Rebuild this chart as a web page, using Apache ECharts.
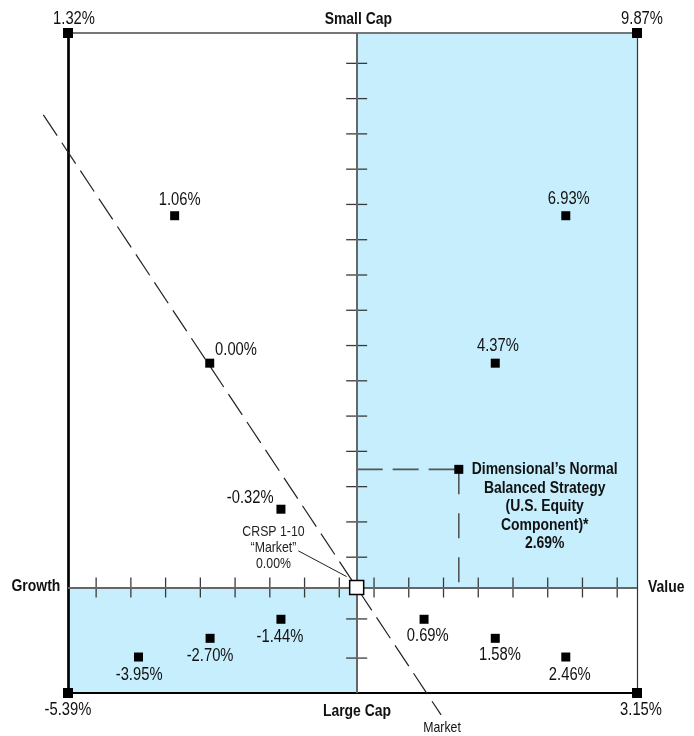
<!DOCTYPE html>
<html><head><meta charset="utf-8">
<script src="https://cdn.jsdelivr.net/npm/echarts@6/dist/echarts.min.js"></script>
<style>html,body{margin:0;padding:0;background:#fff}#c{width:694px;height:736px}</style>
</head><body><div id="c"></div>
<script>
// ---- data (style-map coordinates: value/growth across, size up/down) ----
const pointLabels = ['1.06%', '6.93%', '0.00%', '4.37%', '-0.32%', '-1.44%', '0.69%', '-2.70%', '1.58%', '-3.95%', '2.46%'];
const pointX = [-5.24, 6.02, -4.23, 3.99, -2.18, -2.18, 1.94, -4.22, 3.99, -6.28, 6.02];
const pointY = [10.54, 10.54, 6.36, 6.36, 2.22, -0.90, -0.90, -1.44, -1.44, -1.97, -1.97];
const dimLabel = 'Dimensional’s Normal\nBalanced Strategy\n(U.S. Equity\nComponent)*\n2.69%';
const dimX = 2.94, dimY = 3.35;
const marketLabel = 'CRSP 1-10\n“Market”\n0.00%';
const marketX = 0, marketY = 0;
const marketLineX = [-9.02, 2.43];
const marketLineY = [13.40, -3.61];
const cornerLabels = ['1.32%', '9.87%', '-5.39%', '3.15%'];
const axisTitles = ['Small Cap', 'Large Cap', 'Growth', 'Value'];
const xTicks = [-7.5, -6.5, -5.5, -4.5, -3.5, -2.5, -1.5, -0.5, 0.5, 1.5, 2.5, 3.5, 4.5, 5.5, 6.5, 7.5];
const yTicks = [-2.0, -0.89, 0.86, 1.86, 2.86, 3.86, 4.86, 5.86, 6.86, 7.86, 8.86, 9.86, 10.86, 11.86, 12.86, 13.86, 14.86];
const xMin = -8.31, xMax = 8.07, yMin = -2.99, yMax = 15.72;

// ---- styles ----
const FONT = "'Liberation Sans Narrow','Liberation Sans',Arial,sans-serif";
const SX = 0.82; // horizontal condensing of the text
const TXT = '#111';
const BLUE = '#c6eefc';
// label centre offsets (px) from the anchoring mark
const pointLabelOff = [[5, -15.7], [3, -17], [26.3, -13.3], [2.7, -17.3], [-30.7, -11.6],
  [-1, 17.4], [3.7, 16.7], [0, 17.7], [4.7, 17], [0.6, 18], [4, 18]];
const cornerAnchor = [[xMin, yMax], [xMax, yMax], [xMin, yMin], [xMax, yMin]];
const cornerOff = [[6, -13.7], [5, -13.7], [0, 17.4], [4, 17.4]];
const titleAnchor = [[0, yMax], [0, yMin], [xMin, 0], [xMax, 0]];
const titleOff = [[1.7, -13.7], [0.3, 18.7], [-7.7, -1], [11, -0.5]];
const titleAlign = ['center', 'center', 'right', 'left'];

function axisX(pos, color, width) {
  return {type: 'value', min: xMin, max: xMax, position: pos, z: 3,
    axisLine: {show: true, onZero: false, lineStyle: {color: color, width: width}},
    axisTick: {show: false}, axisLabel: {show: false}, splitLine: {show: false}};
}
function axisY(pos, color, width) {
  return {type: 'value', min: yMin, max: yMax, position: pos, z: 3,
    axisLine: {show: true, onZero: false, lineStyle: {color: color, width: width}},
    axisTick: {show: false}, axisLabel: {show: false}, splitLine: {show: false}};
}

const option = {
  animation: false,
  backgroundColor: '#fff',
  grid: {left: 68, right: 57, top: 33, bottom: 43, containLabel: false},
  xAxis: [axisX('bottom', '#000', 2), axisX('top', '#777', 2)],
  yAxis: [axisY('left', '#000', 2.7), axisY('right', '#333', 1.2)],
  series: [
    {
      type: 'line', data: [[0, 0]], showSymbol: false, symbol: 'none', lineStyle: {opacity: 0}, z: 1, silent: true,
      markArea: {silent: true, itemStyle: {color: BLUE, opacity: 1},
        data: [[{coord: [0, 0]}, {coord: [xMax, yMax]}], [{coord: [xMin, yMin]}, {coord: [0, 0]}]]}
    },
    {
      type: 'line', data: [[0, 0]], showSymbol: false, symbol: 'none', lineStyle: {opacity: 0}, z: 2, silent: true,
      markLine: {silent: true, symbol: ['none', 'none'], label: {show: false},
        lineStyle: {color: '#666', width: 2, type: 'solid', opacity: 1},
        data: [{xAxis: 0}, {yAxis: 0}]}
    },
    {
      type: 'scatter', silent: true, z: 4, symbol: 'rect', symbolSize: [1.3, 20],
      itemStyle: {color: '#3a3a3a', opacity: 1}, data: xTicks.map(t => [t, 0])
    },
    {
      type: 'scatter', silent: true, z: 4, symbol: 'rect', symbolSize: [21, 1.3],
      itemStyle: {color: '#3a3a3a', opacity: 1}, data: yTicks.map(t => [0, t])
    },
    {
      type: 'line', silent: true, z: 4, showSymbol: false, symbol: 'none',
      lineStyle: {color: '#555', width: 1.6, type: [26, 10]},
      data: [[0, dimY], [dimX, dimY]]
    },
    {
      type: 'line', silent: true, z: 4, showSymbol: false, symbol: 'none',
      lineStyle: {color: '#555', width: 1.6, type: [25, 19]},
      data: [[dimX, dimY], [dimX, 0]]
    },
    {
      type: 'line', silent: true, z: 4, showSymbol: false, symbol: 'none',
      lineStyle: {color: '#222', width: 1},
      data: [[-1.68, 1.04], [-0.29, 0.31]]
    },
    {
      type: 'scatter', z: 5, symbol: 'rect', symbolSize: 9, itemStyle: {color: '#000', opacity: 1}, silent: true,
      data: pointX.map((x, i) => [x, pointY[i]])
    },
    {
      type: 'scatter', z: 5, symbol: 'rect', symbolSize: 9, itemStyle: {color: '#000', opacity: 1}, silent: true,
      data: [[dimX, dimY]]
    },
    {
      type: 'scatter', z: 6, symbol: 'rect', symbolSize: 14, silent: true,
      itemStyle: {color: '#fff', borderColor: '#000', borderWidth: 1.5, opacity: 1},
      data: [[marketX, marketY]]
    },
    {
      type: 'scatter', z: 6, symbol: 'rect', symbolSize: 10, itemStyle: {color: '#000', opacity: 1}, silent: true,
      data: cornerAnchor
    }
  ]
};
const chart = echarts.init(document.getElementById('c'), null, {renderer: 'canvas'});
chart.setOption(option);

const px = p => chart.convertToPixel({gridIndex: 0}, p);
function txt(anchor, off, text, o) {
  o = o || {};
  const p = px(anchor);
  return {
    type: 'text', silent: true, z: 20, x: p[0] + off[0], y: p[1] + off[1], scaleX: SX, scaleY: 1,
    style: {
      text: text, fill: o.color || TXT,
      font: (o.weight || 'normal') + ' ' + (o.size || 18) + 'px ' + FONT,
      textAlign: o.align || 'center', textVerticalAlign: 'middle',
      lineHeight: o.lineHeight || (o.size || 18)
    }
  };
}
const g = [];
const s = px([marketLineX[0], marketLineY[0]]), e = px([marketLineX[1], marketLineY[1]]);
g.push({type: 'polyline', silent: true, z: 4, shape: {points: [s, e]},
  style: {stroke: '#222', lineWidth: 1.2, lineDash: [25, 8.5], fill: null}});
pointLabels.forEach((l, i) => g.push(txt([pointX[i], pointY[i]], pointLabelOff[i], l)));
cornerLabels.forEach((l, i) => g.push(txt(cornerAnchor[i], cornerOff[i], l)));
axisTitles.forEach((l, i) => g.push(txt(titleAnchor[i], titleOff[i], l, {size: 17, weight: 'bold', align: titleAlign[i]})));
g.push(txt([dimX, dimY], [85.9, 37], dimLabel, {size: 17, weight: 'bold', lineHeight: 18.5}));
g.push(txt([marketX, marketY], [-83.2, -39.6], marketLabel, {size: 15, lineHeight: 16.2, color: '#222'}));
g.push(txt([marketLineX[1], marketLineY[1]], [1, 12.7], 'Market', {size: 15}));
chart.setOption({graphic: {elements: g}});
</script>
</body></html>
